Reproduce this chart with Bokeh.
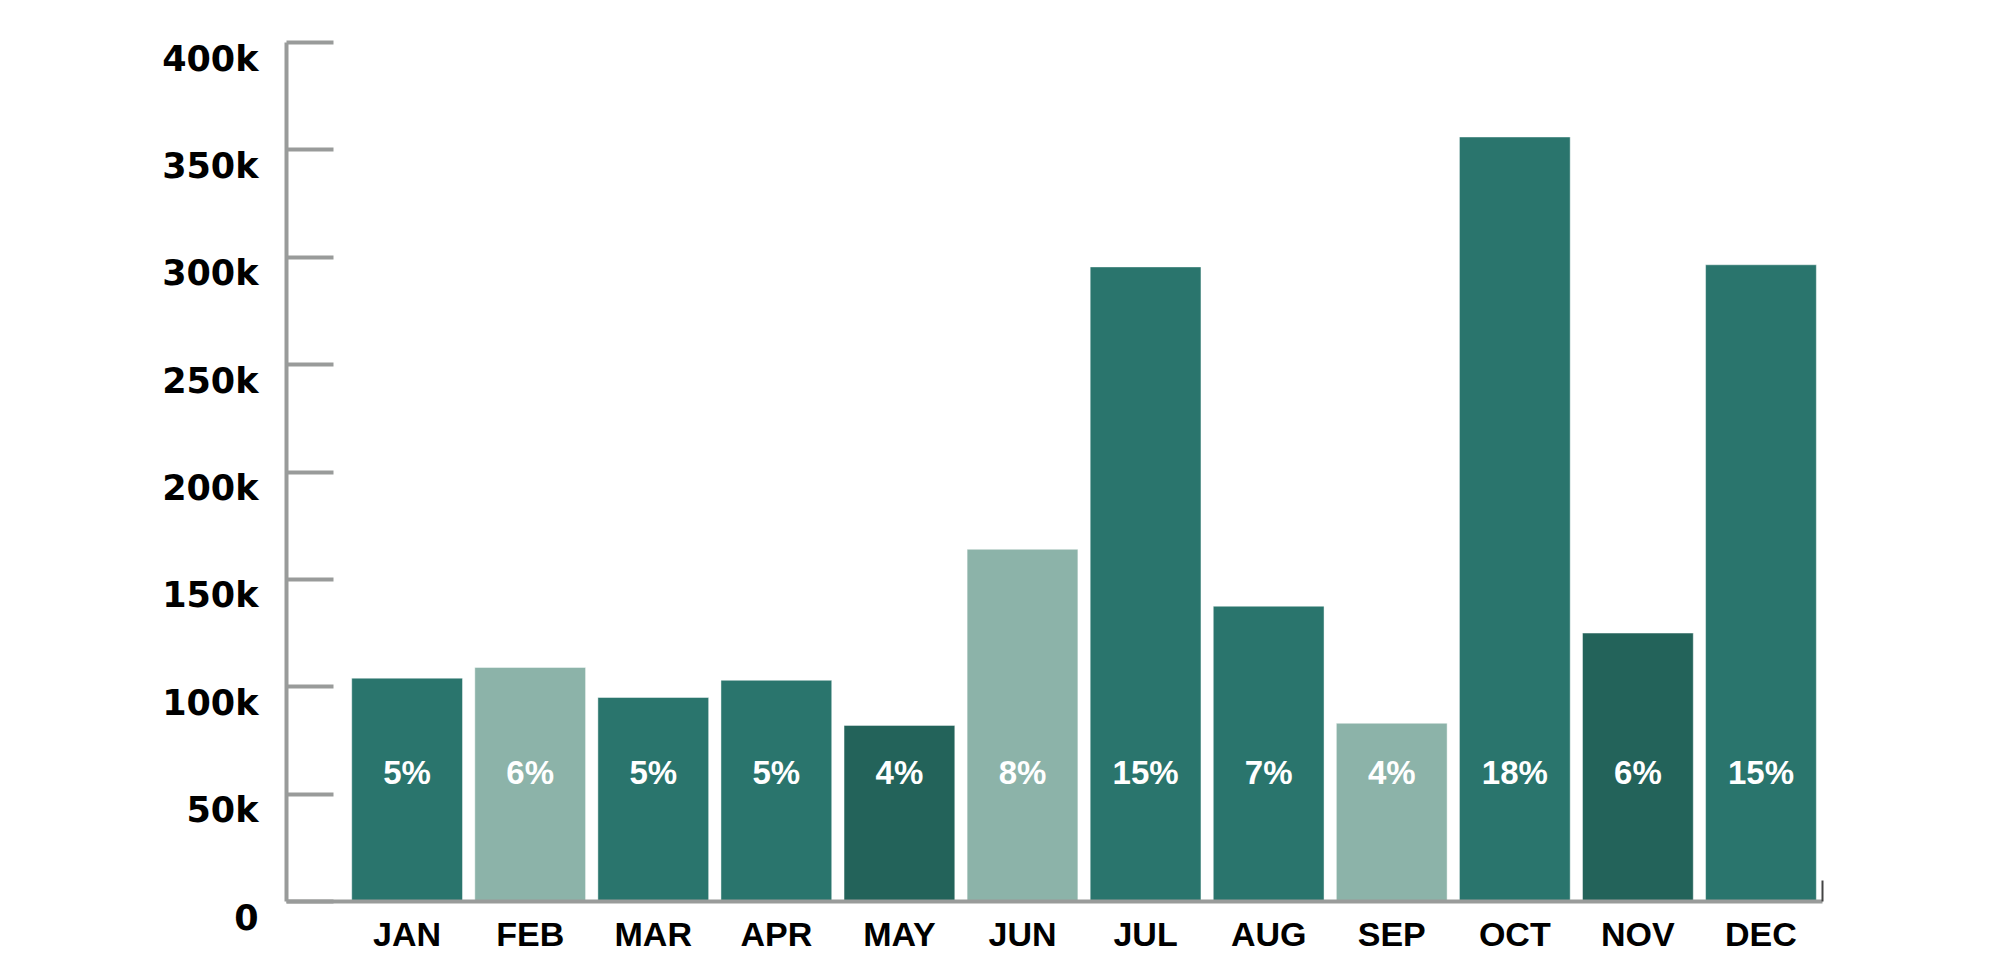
from bokeh.plotting import figure
from bokeh.models import ColumnDataSource, FixedTicker, Range1d
from bokeh.core.properties import value
from bokeh.embed import file_html
from bokeh.resources import INLINE

# ---- data ----
months = ["JAN", "FEB", "MAR", "APR", "MAY", "JUN", "JUL", "AUG", "SEP", "OCT", "NOV", "DEC"]
visits = [104000, 109000, 95000, 103000, 82000, 164000, 295500, 137500, 83000, 356000, 125000, 296500]
shares = ["5%", "6%", "5%", "5%", "4%", "8%", "15%", "7%", "4%", "18%", "6%", "15%"]
y_ticks = [0, 50000, 100000, 150000, 200000, 250000, 300000, 350000, 400000]
y_tick_labels = ["0", "50k", "100k", "150k", "200k", "250k", "300k", "350k", "400k"]

# ---- styles ----
DARK = "#2a756d"
LIGHT = "#8cb3a9"
DEEP = "#23635a"
bar_colors = [DARK, LIGHT, DARK, DARK, DEEP, LIGHT, DARK, DARK, LIGHT, DARK, DEEP, DARK]
AXIS = "#999b9a"
LABEL_Y = 60000
Y_MAX = 400000

xs = list(range(1, len(months) + 1))
src = ColumnDataSource(dict(x=xs, top=visits, label=shares, color=bar_colors, ly=[LABEL_Y] * len(xs)))

p = figure(
    output_backend="svg", toolbar_location=None,
    frame_width=1536, frame_height=859,
    min_border_left=286, min_border_top=42, min_border_right=30, min_border_bottom=60,
    x_range=Range1d(0.02, 12.5), y_range=Range1d(0, Y_MAX),
)
p.outline_line_color = None
p.xgrid.visible = False
p.ygrid.visible = False
p.background_fill_color = "white"
p.border_fill_color = "white"

p.vbar(x="x", top="top", bottom=0, width=0.9, fill_color="color",
       line_color="#ffffff", line_alpha=0.45, line_width=1, source=src)

p.text(x="x", y="ly", text="label", source=src, text_color="white",
       text_font=value("Liberation Sans"), text_font_style="bold",
       text_font_size="33px", text_align="center", text_baseline="middle")

# y axis (labels sit slightly below their ticks: a blank first line pushes them down)
ya = p.yaxis[0]
ya.ticker = FixedTicker(ticks=y_ticks, minor_ticks=[])
ya.major_label_overrides = {t: " \n" + l for t, l in zip(y_ticks, y_tick_labels)}
ya.major_label_text_line_height = 0.8
ya.axis_line_color = AXIS
ya.axis_line_width = 4
ya.major_tick_line_color = AXIS
ya.major_tick_line_width = 4
ya.major_tick_in = 47
ya.major_tick_out = 0
ya.minor_tick_line_color = None
ya.major_label_standoff = 28
ya.major_label_text_font = "DejaVu Sans"
ya.major_label_text_font_style = "bold"
ya.major_label_text_font_size = "35px"
ya.major_label_text_color = "black"

# x axis
xa = p.xaxis[0]
xa.ticker = FixedTicker(ticks=xs, minor_ticks=[12.5])
xa.major_label_overrides = {x: m for x, m in zip(xs, months)}
xa.axis_line_color = AXIS
xa.axis_line_width = 4
xa.major_tick_line_color = None
xa.minor_tick_line_color = "#444444"
xa.minor_tick_line_width = 2
xa.minor_tick_in = 21
xa.minor_tick_out = 0
xa.major_label_standoff = 7
xa.major_label_text_font = "Liberation Sans"
xa.major_label_text_font_style = "bold"
xa.major_label_text_font_size = "34px"
xa.major_label_text_color = "black"

open("out.html", "w").write(file_html(p, INLINE))
